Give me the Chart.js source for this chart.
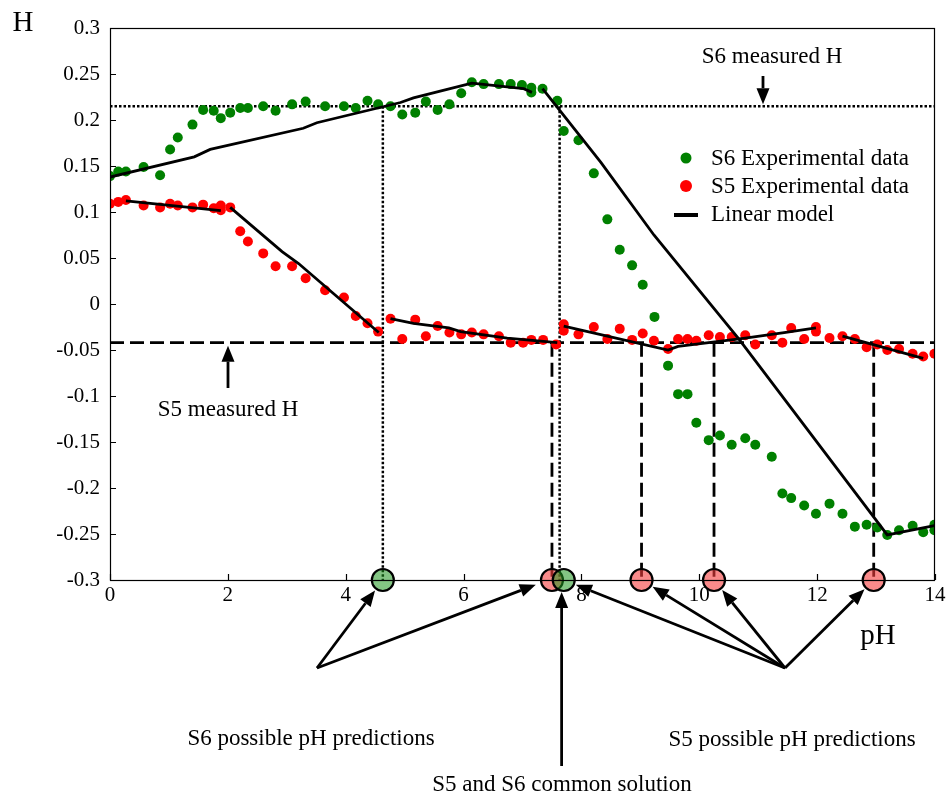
<!DOCTYPE html>
<html><head><meta charset="utf-8">
<script src="https://cdn.jsdelivr.net/npm/chart.js@4.4.0/dist/chart.umd.min.js"></script>
<style>html,body{margin:0;padding:0;background:#fff}</style>
</head><body>
<canvas id="c" width="950" height="800"></canvas>
<script>
// ---- data ----
const s6X = [0.00,0.14,0.27,0.57,0.85,1.02,1.15,1.40,1.58,1.76,1.88,2.04,2.21,2.34,2.60,2.81,3.09,3.32,3.65,3.97,4.17,4.37,4.55,4.76,4.96,5.18,5.36,5.56,5.76,5.96,6.14,6.34,6.60,6.80,6.99,7.15,7.15,7.34,7.59,7.70,7.95,8.21,8.44,8.65,8.86,9.04,9.24,9.47,9.64,9.80,9.95,10.16,10.35,10.55,10.78,10.95,11.23,11.41,11.56,11.78,11.98,12.21,12.43,12.64,12.84,13.02,13.19,13.39,13.62,13.80,13.99,13.99];
const s6Y = [0.139,0.144,0.144,0.149,0.140,0.168,0.181,0.195,0.211,0.210,0.202,0.208,0.213,0.213,0.215,0.210,0.217,0.220,0.215,0.215,0.213,0.221,0.217,0.215,0.206,0.208,0.220,0.211,0.217,0.229,0.241,0.239,0.239,0.239,0.238,0.235,0.230,0.234,0.221,0.188,0.178,0.142,0.092,0.059,0.042,0.021,-0.014,-0.067,-0.098,-0.098,-0.129,-0.148,-0.143,-0.153,-0.146,-0.153,-0.166,-0.206,-0.211,-0.219,-0.228,-0.217,-0.228,-0.242,-0.240,-0.243,-0.251,-0.246,-0.241,-0.248,-0.240,-0.246];
const s5X = [0.00,0.14,0.27,0.57,0.85,1.02,1.15,1.40,1.58,1.76,1.88,1.88,2.04,2.21,2.34,2.60,2.81,3.09,3.32,3.65,3.97,4.17,4.37,4.55,4.76,4.96,5.18,5.36,5.56,5.76,5.96,6.14,6.34,6.60,6.80,7.01,7.15,7.35,7.57,7.70,7.70,7.95,8.21,8.44,8.65,8.86,9.04,9.23,9.47,9.64,9.80,9.95,10.16,10.35,10.55,10.78,10.95,11.23,11.41,11.56,11.78,11.98,11.98,12.21,12.43,12.64,12.84,13.02,13.19,13.39,13.62,13.80,13.99];
const s5Y = [0.109,0.111,0.113,0.107,0.105,0.109,0.107,0.105,0.108,0.104,0.107,0.102,0.105,0.079,0.068,0.055,0.041,0.041,0.028,0.015,0.007,-0.013,-0.021,-0.030,-0.016,-0.038,-0.017,-0.035,-0.024,-0.031,-0.033,-0.031,-0.033,-0.035,-0.042,-0.042,-0.039,-0.039,-0.044,-0.022,-0.029,-0.033,-0.025,-0.038,-0.027,-0.039,-0.032,-0.040,-0.049,-0.038,-0.038,-0.040,-0.034,-0.036,-0.036,-0.034,-0.044,-0.034,-0.042,-0.026,-0.038,-0.025,-0.030,-0.037,-0.035,-0.038,-0.047,-0.044,-0.050,-0.049,-0.054,-0.057,-0.054];

// linear model segments [x list, y list]
const s6ModelAX = [0,1.43,1.70,3.28,3.51,4.93,5.15,6.14,7.02,7.16];
const s6ModelAY = [0.138,0.160,0.168,0.191,0.197,0.219,0.224,0.240,0.234,0.230];
const s6ModelBX = [7.34,8.33,9.23,10.67,13.19,13.99];
const s6ModelBY = [0.234,0.154,0.075,-0.038,-0.251,-0.241];
const s5Model1X = [0.27,1.88];
const s5Model1Y = [0.112,0.1015];
const s5Model2X = [2.04,2.92,3.20,4.56];
const s5Model2Y = [0.105,0.057,0.044,-0.031];
const s5Model3X = [4.76,5.15,5.75,5.95,6.74,7.59];
const s5Model3Y = [-0.016,-0.021,-0.026,-0.030,-0.037,-0.042];
const s5Model4X = [7.70,9.47,9.64,10.16,10.78,11.44,11.98];
const s5Model4Y = [-0.024,-0.050,-0.046,-0.042,-0.037,-0.031,-0.026];
const s5Model5X = [12.43,13.80];
const s5Model5Y = [-0.035,-0.059];

const s6Measured = 0.215;
const s5Measured = -0.042;
const s6Predictions = [4.63, 7.70];   // green circles
const s6DropLines = [4.63, 7.63];
const s5Predictions = [7.50, 9.02, 10.25, 12.96]; // red circles
const xTickValues = [0,2,4,6,8,10,12,14];
const yTickLabels = ['0.3','0.25','0.2','0.15','0.1','0.05','0','-0.05','-0.1','-0.15','-0.2','-0.25','-0.3'];
const yMin = -0.3, yMax = 0.3;

// ---- helpers ----
const pts = (xs, ys) => xs.map((x, i) => ({x: x, y: ys[i]}));
const FONT = '"Liberation Serif", "Times New Roman", serif';

function lineDs(xs, ys, extra) {
  return Object.assign({type:'line', data: pts(xs, ys), borderColor:'#000', borderWidth:2.8,
    pointRadius:0, fill:false, tension:0, order:1}, extra || {});
}

const datasets = [];
// reference lines
datasets.push(lineDs([0,14],[s6Measured,s6Measured],{borderWidth:2.5, borderDash:[2.5,2], order:3}));
datasets.push(lineDs([0,14],[s5Measured,s5Measured],{borderWidth:2.8, borderDash:[14,6], order:3}));
s6DropLines.forEach(x => datasets.push(lineDs([x,x],[s6Measured,yMin],{borderWidth:2.5, borderDash:[2.5,2], order:3})));
s5Predictions.forEach(x => datasets.push(lineDs([x,x],[s5Measured,yMin],{borderWidth:2.8, borderDash:[14,6], order:3})));
// experimental data
datasets.push({type:'scatter', label:'S6 Experimental data', data: pts(s6X, s6Y), backgroundColor:'#008000', borderColor:'#008000', pointRadius:5, borderWidth:0, order:2});
datasets.push({type:'scatter', label:'S5 Experimental data', data: pts(s5X, s5Y), backgroundColor:'#ff0000', borderColor:'#ff0000', pointRadius:5, borderWidth:0, order:2});
// linear model
[[s6ModelAX,s6ModelAY],[s6ModelBX,s6ModelBY],[s5Model1X,s5Model1Y],[s5Model2X,s5Model2Y],[s5Model3X,s5Model3Y],[s5Model4X,s5Model4Y],[s5Model5X,s5Model5Y]]
  .forEach(p => datasets.push(lineDs(p[0], p[1])));
// prediction circles
datasets.push({type:'scatter', data: pts(s5Predictions, s5Predictions.map(()=>yMin)), backgroundColor:'rgba(245,60,60,0.6)', borderColor:'#000', borderWidth:2.2, pointRadius:11, clip:false, order:0});
datasets.push({type:'scatter', data: pts(s6Predictions, s6Predictions.map(()=>yMin)), backgroundColor:'rgba(30,150,30,0.55)', borderColor:'#000', borderWidth:2.2, pointRadius:11, clip:false, order:-1});

function arrow(ctx, x1, y1, x2, y2) {
  const a = Math.atan2(y2 - y1, x2 - x1), L = 16, W = 6.5;
  const bx = x2 - L*Math.cos(a), by = y2 - L*Math.sin(a);
  ctx.beginPath(); ctx.moveTo(x1, y1); ctx.lineTo(bx, by); ctx.stroke();
  ctx.beginPath(); ctx.moveTo(x2, y2);
  ctx.lineTo(bx + W*Math.sin(a), by - W*Math.cos(a));
  ctx.lineTo(bx - W*Math.sin(a), by + W*Math.cos(a));
  ctx.closePath(); ctx.fill();
}

const decor = {
  id:'decor',
  afterDraw(chart) {
    const ctx = chart.ctx, ca = chart.chartArea, xs = chart.scales.x, ys = chart.scales.y;
    ctx.save();
    ctx.strokeStyle = '#000'; ctx.fillStyle = '#000'; ctx.lineWidth = 1.2;
    // frame
    ctx.strokeRect(ca.left + 0.5, ca.top + 0.5, ca.right - ca.left - 1, ca.bottom - ca.top);
    // inner ticks
    ctx.beginPath();
    ys.ticks.forEach(t => { const p = Math.round(ys.getPixelForValue(t.value)) + 0.5; ctx.moveTo(ca.left, p); ctx.lineTo(ca.left + 6, p); });
    xs.ticks.forEach(t => { const p = Math.round(xs.getPixelForValue(t.value)) + 0.5; ctx.moveTo(p, ca.bottom); ctx.lineTo(p, ca.bottom - 6); });
    ctx.stroke();
    // arrows
    ctx.lineWidth = 2.8; ctx.lineCap = 'butt';
    const yb = ys.getPixelForValue(yMin);
    const tipTo = (ox, oy, cx) => {
      const dx = ox - cx, dy = oy - yb, d = Math.hypot(dx, dy), r = 13;
      arrow(ctx, ox, oy, cx + dx/d*r, yb + dy/d*r);
    };
    const s6o = [317, 668], s5o = [785, 668];
    tipTo(s6o[0], s6o[1], xs.getPixelForValue(s6Predictions[0]));
    tipTo(s6o[0], s6o[1], xs.getPixelForValue(s5Predictions[0]) - 4);
    tipTo(s5o[0], s5o[1], xs.getPixelForValue(s6Predictions[1]));
    tipTo(s5o[0], s5o[1], xs.getPixelForValue(s5Predictions[1]));
    tipTo(s5o[0], s5o[1], xs.getPixelForValue(s5Predictions[2]));
    tipTo(s5o[0], s5o[1], xs.getPixelForValue(s5Predictions[3]));
    const cx = xs.getPixelForValue(s6DropLines[1]) + 2;
    arrow(ctx, cx, 766, cx, yb + 12);
    arrow(ctx, 763, 76, 763, ys.getPixelForValue(s6Measured) - 2);
    arrow(ctx, 228, 388, 228, ys.getPixelForValue(s5Measured) + 3);
    // texts
    ctx.textBaseline = 'middle'; ctx.textAlign = 'center';
    ctx.font = '23px ' + FONT;
    ctx.fillText('S6 measured H', 772, 57);
    ctx.fillText('S5 measured H', 228, 410);
    ctx.fillText('S6 possible pH predictions', 311, 739);
    ctx.fillText('S5 possible pH predictions', 792, 740);
    ctx.fillText('S5 and S6 common solution', 562, 785);
    ctx.font = '29px ' + FONT;
    ctx.fillText('H', 23, 23);
    ctx.fillText('pH', 878, 636);
    // legend
    ctx.textAlign = 'left';
    ctx.font = '23px ' + FONT;
    ctx.fillStyle = '#008000';
    ctx.beginPath(); ctx.arc(686, 158, 5.5, 0, Math.PI*2); ctx.fill();
    ctx.fillStyle = '#ff0000';
    ctx.beginPath(); ctx.arc(686, 186, 6, 0, Math.PI*2); ctx.fill();
    ctx.fillStyle = '#000';
    ctx.fillRect(674, 213, 24, 4);
    ctx.fillText('S6 Experimental data', 711, 159);
    ctx.fillText('S5 Experimental data', 711, 187);
    ctx.fillText('Linear model', 711, 215);
    ctx.restore();
  }
};

new Chart(document.getElementById('c'), {
  type:'scatter',
  data:{datasets},
  options:{
    responsive:false, animation:false, devicePixelRatio:1,
    layout:{padding:{left:0, top:28, right:15, bottom:0}},
    plugins:{legend:{display:false}, tooltip:{enabled:false}},
    scales:{
      x:{type:'linear', min:0, max:14,
        afterBuildTicks(s){ s.ticks = xTickValues.map(v => ({value:v})); },
        afterFit(s){ s.height = 220; },
        grid:{display:false, drawTicks:false}, border:{display:false},
        ticks:{color:'#000', padding:3, font:{family:FONT, size:21}, maxRotation:0, callback:v => String(v)}},
      y:{type:'linear', min:yMin, max:yMax,
        afterBuildTicks(s){ s.ticks = yTickLabels.map(l => ({value: parseFloat(l)})); },
        afterFit(s){ s.width = 110; },
        grid:{display:false, drawTicks:false}, border:{display:false},
        ticks:{color:'#000', padding:10, font:{family:FONT, size:21},
          callback:(v, i) => yTickLabels[i]}}
    }
  },
  plugins:[decor]
});
</script>
</body></html>
